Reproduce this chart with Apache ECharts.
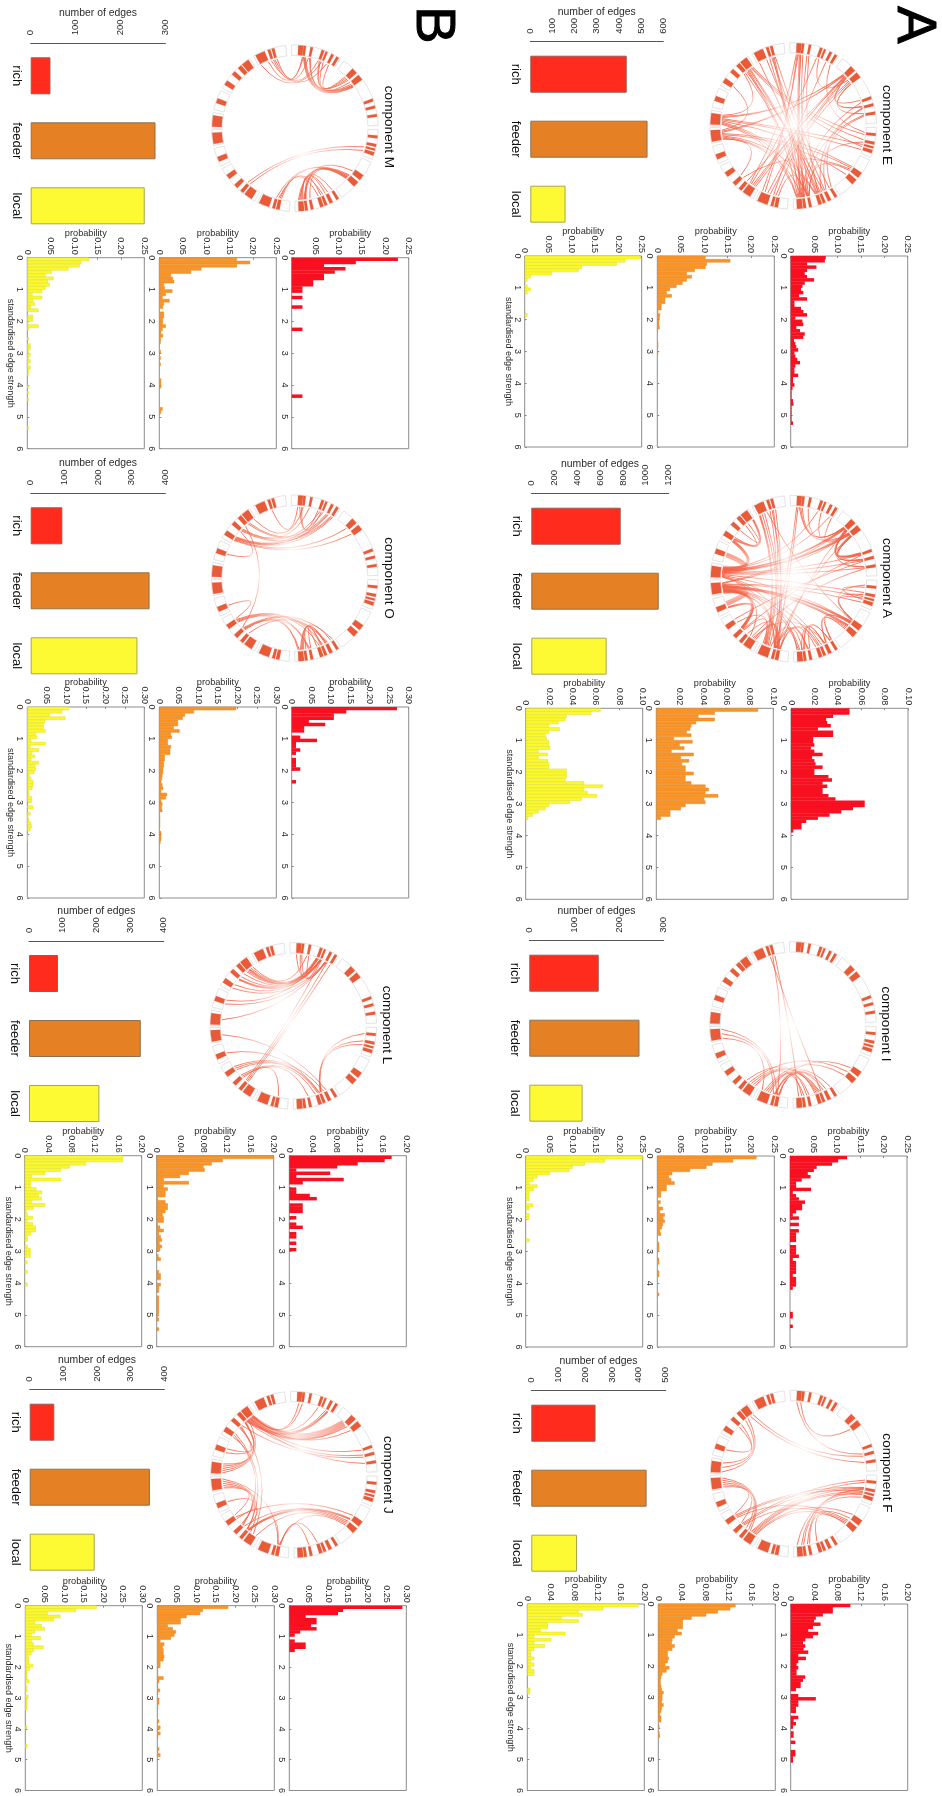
<!DOCTYPE html>
<html><head><meta charset="utf-8">
<style>html,body{margin:0;padding:0;background:#fff;overflow:hidden}#c{width:942px;height:1796px}</style>
<script src="https://cdn.jsdelivr.net/npm/echarts@6/dist/echarts.min.js"></script>
</head><body><div id="c"></div>
<script>
// ---------- histogram values: probability per 0.1-wide bin of standardised edge strength ----------
const E_rich=[.075,.073,.035,.055,.035,.03,.035,.05,.03,.025,.022,.027,.018,.035,.008,.008,.022,.027,.035,.01,.025,.027,.012,.02,.03,.027,.007,.01,.012,.016,.008,.01,.014,.02,.01,.008,.008,.016,.005,.005,.008,.004,.002,.002,.002,.005,.006,.002,.002,.002,.002,.002,.005];
const E_feeder=[.103,.156,.106,.103,.08,.063,.074,.063,.054,.041,.027,.02,.031,.017,.017,.009,.009,.002,.006,.005,.004,.004,.005,.001,0,0,0,.002,.002,0,.002];
const E_local=[.248,.215,.197,.122,.115,.058,.013,.006,0,.006,.013,.006,0,0,0,0,0,0,.006];
const A_rich=[.05,.05,.036,.03,.031,.034,.023,.036,.036,.019,.019,.02,.017,.02,.027,.018,.02,.021,.027,.02,.02,.032,.035,.027,.031,.027,.027,.032,.038,.063,.063,.053,.043,.033,.023,.013,.009,.009,.002];
const A_feeder=[.087,.05,.036,.05,.034,.03,.029,.026,.03,.015,.031,.02,.024,.013,.032,.021,.028,.022,.025,.025,.032,.025,.025,.03,.042,.045,.042,.053,.041,.042,.025,.021,.012,.012,.004];
const A_local=[.064,.056,.035,.034,.028,.02,.029,.02,.017,.018,.02,.02,.021,.011,.019,.011,.019,.02,.02,.035,.035,.035,.034,.05,.066,.05,.053,.061,.048,.038,.02,.017,.011,.006,.002];
const I_rich=[.122,.103,.09,.057,.051,.038,.044,.025,.013,.013,.045,.006,.013,.019,.032,.026,.026,.013,.006,.019,0,.019,0,.019,.013,.013,.013,0,.013,.013,.013,.019,.006,.013,.013,.013,.013,.006,.013,.013,.013,.006,0,0,0,0,0,0,0,.006,.006,0,0,.006];
const I_feeder=[.212,.162,.118,.105,.07,.032,.025,.03,.037,.02,.02,.008,.008,0,.007,.003,.012,.006,.016,.013,.016,.012,.01,.006,.008,0,0,.004,.004,.004,0,0,.004,.004,0,0,.004,.004,0,0,0,0,0,.004];
const I_local=[.25,.17,.127,.1,.093,.052,.025,.017,.008,.025,.017,.008,.008,.008,0,.016,.008,0,.008,.008,0,0,0,0,0,0,.008];
const F_rich=[.102,.072,.072,.055,.043,.04,.051,.038,.03,.047,.038,.025,.021,.025,.022,.03,.013,.026,.013,.01,.013,.01,.01,.025,.021,.017,.017,.009,0,.013,.043,.013,.013,.009,.009,0,.013,.005,.009,.004,0,.005,.005,0,.008,0,0,.008,.008,.004,.004];
const F_feeder=[.132,.123,.102,.082,.057,.042,.042,.042,.033,.04,.028,.024,.023,.028,.024,.016,.016,.018,.016,.012,.019,.014,.007,.005,.004,.004,.005,.006,.009,.007,.007,.006,.009,.006,.005,.003,.005,.005,0,.002,0,.002,.003];
const F_local=[.19,.13,.088,.095,.059,.088,.035,.035,.023,.065,.012,.041,.012,.03,.012,.006,.006,.012,.006,.012,.006,.012,.012,0,0,0,0,.005,.005];
const M_rich=[.227,.137,.069,.115,.092,.069,.069,.046,.046,.023,.023,0,.023,0,0,.023,0,0,0,0,0,0,.023,0,0,0,0,0,0,0,0,0,0,0,0,0,0,0,0,0,0,0,0,.023];
const M_feeder=[.166,.194,.166,.09,.068,.025,.029,.032,.01,.012,.028,.014,.007,.022,.01,.008,0,.01,.01,.008,.008,.014,.007,.004,.008,.003,.003,0,0,.003,0,.003,0,.003,0,0,0,0,.004,.004,.004,0,0,0,0,0,0,.007,.004];
const M_local=[.132,.115,.112,.088,.052,.039,.056,.044,.048,.039,.032,.011,.032,.012,.016,.008,.024,0,.012,.012,.002,.024,.003,0,0,.003,0,.007,.007,.003,.007,.003,.007,.002,.007,.003,.003,0,0,0,.003,0,.003,0,.003,0,0,0,0,0,0,0,0,.003];
const O_rich=[.27,.14,.108,.108,.044,.086,.032,.032,0,.022,.065,.011,.011,.022,.011,0,.011,.011,.011,.022,0,0,0,.011];
const O_feeder=[.197,.089,.066,.06,.048,.048,.037,.052,.03,.032,.022,.022,.03,.028,.028,.014,.014,.012,.012,.01,.01,.008,.007,.005,.008,.01,.005,.02,.017,.005,.008,.006,.008,0,.002,.002,.002,.002,0,.005,.005,.005,.003];
const O_local=[.107,.09,.057,.098,.046,.042,.042,.047,.022,.025,.01,.047,.008,.03,.012,.02,.01,.03,.02,.022,.018,.006,.01,.016,.015,.013,.004,.005,.012,.012,0,.015,0,.008,.002,.005,.009,.012,.008,0,.002,.002];
const L_rich=[.175,.163,.117,.082,.012,.07,.012,.093,.023,0,.012,.012,.035,.047,0,.023,.023,.023,0,.012,0,.012,.023,0,.012,.012,0,.012,0,.012];
const L_feeder=[.2,.113,.094,.08,.082,.055,.04,.012,.055,.012,.019,.015,.015,.002,.015,.019,.019,.015,.01,.012,.012,.002,.006,.012,.004,.007,.009,.005,.009,.006,0,.003,.007,0,0,0,.004,.007,.007,0,.007,.004,.004,0,.004,.004,.004,.004,.004,.004,.002,.004,0,0,.004];
const L_local=[.168,.168,.105,.077,.062,.035,.012,.062,.011,.011,.02,.03,.024,.029,.012,.035,.015,.003,.005,.014,.005,.014,.019,.019,.011,.005,.005,0,.005,.01,.01,.01,0,.005,0,0,.005,0,0,0,.005];
const J_rich=[.29,.138,.125,.042,.07,.07,.056,.07,.028,.014,0,.014,.042,.042,.014];
const J_feeder=[.182,.117,.11,.075,.06,.06,.027,.04,.048,.044,.035,.008,.018,.014,.016,.016,.018,.016,.008,.008,.002,.002,.002,.016,.005,.002,.002,.007,.002,0,.005,.005,.002,.002,0,0,0,.005,0,.008,.002,.008,.002,0,0,0,.005,.002,.008];
const J_local=[.183,.13,.058,.09,.073,.025,.042,.05,.025,.016,.04,.016,.022,.047,.022,.016,.008,.01,.01,.02,.012,.005,.005,.005,.01,.002,.005,.005,.002,.008,.005,.005,.005,.005,0,0,0,0,0,.005,0,0,0,0,0,.005];

// ---------- edge counts ----------
const edgeCategories=['rich','feeder','local'];
const E_counts=[435,529,159];
const A_counts=[781,1113,658];
const I_counts=[155,246,119];
const F_counts=[239,429,170];
const M_counts=[44,278,254];
const O_counts=[94,353,317];
const L_counts=[86,332,209];
const J_counts=[73,357,193];

// ---------- ring: node [centre angle, width] in degrees clockwise from top; outline boxes [start,end] ----------
const ringNodes=[[4,3.5],[6.8,1.8],[11.7,1.8],[19.8,2],[22.5,1.5],[27,2],[31,2],[46,4.2],[52,4.2],[70,2],[75,2],[81,2],[96,2],[102,2],[105,1.5],[108,2.5],[126.5,4.2],[132.5,4.2],[149,2],[154,2.5],[158,2],[161,2.5],[168,2],[172,2],[175.5,4],[192,2.5],[195,2],[202,7.5],[214.5,6],[220,2.5],[225.5,3],[234,3.6],[248,3.6],[263,8],[275,8],[289.5,3.6],[303.5,3.6],[312,3],[318,3],[323,5.5],[335,7],[341.6,2],[344.5,2]];
const ringBoxes=[[357.5,393],[36,88],[91,112],[114,146],[148,180],[184,207],[209,241],[243,256],[258,269],[270,281],[283,297],[299,327],[330,353.5]];

// ---------- chords: node index, node index, optional relative thickness ----------
const E_edges=[[7,33],[7,34],[7,33],[7,34],[7,28],[7,28],[8,28],[7,27],[7,26],[8,27],[7,29],[7,10],[7,9],[8,10],[8,11],[39,15],[39,13],[39,12],[39,20],[39,21],[39,24],[39,23],[38,22],[38,19],[42,24],[42,23],[41,22],[41,19],[40,21],[42,18],[40,20],[0,24],[0,23],[0,28],[0,27],[1,24],[1,22],[2,23],[2,21],[3,28],[3,8],[34,15],[34,14],[34,22],[34,21],[34,24],[34,16],[34,38],[33,16],[33,17],[33,21],[33,24],[33,23],[33,36],[33,30],[10,20],[10,18],[11,19],[11,23],[9,24],[12,6],[13,22],[16,22],[16,30],[25,22],[26,5],[27,0]];
const A_edges=[[35,34,5],[32,33,5],[34,8,2],[34,7,2],[34,9],[34,10],[34,8],[34,11],[34,7],[34,24],[34,26],[34,20],[34,13],[34,6],[34,3],[34,16],[34,36,3],[33,16,2],[33,17,2],[33,16],[33,17],[33,26],[33,25],[33,24],[33,22],[33,21],[33,14],[33,8],[33,7],[33,15],[33,30,3],[33,28],[41,27],[42,27],[42,26],[41,25],[40,27,2],[40,26],[40,25],[39,36,2],[38,36],[39,37],[0,7],[0,8],[1,7],[2,7],[4,8],[6,8],[7,9,2],[7,10],[8,9,2],[8,11],[7,11],[8,10],[8,9],[7,10],[12,15],[12,16],[13,16],[14,16],[16,19],[17,18],[28,26],[28,25],[29,25],[30,27],[31,27],[22,25],[21,26],[20,25],[23,26],[24,27],[19,24],[18,22],[18,23],[19,23],[18,16],[19,17],[0,26],[0,27],[7,25],[8,26],[40,16],[9,30],[10,31],[11,28],[28,19],[30,32,2]];
const I_edges=[[41,20],[42,25],[42,24],[33,26],[33,25],[33,27],[28,17],[16,26],[17,27],[28,21],[28,23],[29,20],[26,22],[25,19],[27,21],[27,18],[25,23],[25,21],[27,22],[26,19],[28,20]];
const F_edges=[[0,8],[0,10],[39,10],[39,11],[38,34],[39,34],[37,34],[37,35],[33,30],[33,31],[33,28],[33,29],[31,13],[31,14],[30,13],[30,12],[28,12],[28,13],[28,15],[28,17],[28,16],[30,17],[33,29],[23,13],[22,13],[22,16],[24,15],[21,17],[24,14],[31,17],[28,14]];
const M_edges=[[42,1],[41,5],[40,4],[42,3],[40,1],[41,2],[1,8,3],[2,7],[3,7],[3,8],[4,7],[5,7],[2,8],[29,15],[29,14],[26,17],[25,17],[24,17],[23,17,2],[22,17],[24,17],[23,16],[25,21],[25,20],[24,19],[23,19],[24,18],[24,20]];
const O_edges=[[36,7],[36,8],[36,6],[36,5],[36,4],[37,3],[37,2],[39,1],[0,3],[0,4],[35,37],[0,41],[38,30],[31,22],[31,21],[31,20],[30,18],[30,19],[30,22],[30,24],[31,24],[32,31],[29,19],[24,18],[23,19],[22,20],[24,20],[23,21],[24,19],[36,5],[37,6],[38,6],[39,5]];
const L_edges=[[39,3,2],[38,4],[37,4,2],[36,5],[36,4],[35,3],[35,5],[39,2],[39,4],[39,3],[38,3],[37,3],[0,5],[1,5],[2,4],[0,3],[34,5],[29,5],[29,6],[29,4],[33,19],[31,21],[31,20],[30,21],[30,22],[32,20],[31,19],[30,25],[13,20],[14,20],[12,20]];
const J_edges=[[39,7,7],[38,7],[39,8],[38,10],[37,10],[39,11],[39,9],[39,0],[39,1],[39,3],[38,5,2],[39,5],[34,38],[34,39],[34,37],[34,36],[34,38],[33,29],[33,30],[33,28],[33,31],[36,29],[37,28],[36,30],[35,37],[35,38],[31,16],[30,17],[29,16,2],[29,17],[28,17],[29,25],[25,17],[25,21],[25,22],[33,25],[30,32],[29,31]];

// ---------- layout (page pixels) ----------
const panelW=117, panelH=191, barGridH=195;
const letters=[{t:'A',x:913,y:25},{t:'B',x:432,y:25}];
const comps=[
 {n:'E',cx:793.3,cy:126,rx:790.7,ox:657.3,yx:524.7,top:256,bx:530.3,by:41.7,bw:133,max:.25,step:.05,cMax:600,cStep:100,tx:887,ty:125,r:E_rich,f:E_feeder,l:E_local,c:E_counts,e:E_edges},
 {n:'A',cx:793.7,cy:578.7,rx:791,ox:656.3,yx:525.7,top:708.3,bx:531.3,by:493.7,bw:137.4,max:.1,step:.02,cMax:1200,cStep:200,tx:887,ty:578,r:A_rich,f:A_feeder,l:A_local,c:A_counts,e:A_edges},
 {n:'I',cx:793,cy:1025,rx:790,ox:657.3,yx:525.7,top:1156,bx:529.3,by:940.7,bw:134.4,max:.25,step:.05,cMax:300,cStep:100,tx:886,ty:1024,r:I_rich,f:I_feeder,l:I_local,c:I_counts,e:I_edges},
 {n:'F',cx:793.7,cy:1473.7,rx:790.7,ox:658.3,yx:527.3,top:1604,bx:531.3,by:1390.7,bw:134.4,max:.2,step:.04,cMax:500,cStep:100,tx:887,ty:1473,r:F_rich,f:F_feeder,l:F_local,c:F_counts,e:F_edges},
 {n:'M',cx:295,cy:128.3,rx:291.7,ox:159.3,yx:27.3,top:257.7,bx:30.7,by:43.3,bw:134.7,max:.25,step:.05,cMax:300,cStep:100,tx:389,ty:127,r:M_rich,f:M_feeder,l:M_local,c:M_counts,e:M_edges},
 {n:'O',cx:294.8,cy:578.3,rx:291.7,ox:159.3,yx:27.3,top:707,bx:30.7,by:493.3,bw:134.7,max:.3,step:.05,cMax:400,cStep:100,tx:389,ty:578,r:O_rich,f:O_feeder,l:O_local,c:O_counts,e:O_edges},
 {n:'L',cx:293.3,cy:1026,rx:289.3,ox:156.7,yx:24.7,top:1155.7,bx:29,by:941,bw:134.7,max:.2,step:.04,cMax:400,cStep:100,tx:387,ty:1025,r:L_rich,f:L_feeder,l:L_local,c:L_counts,e:L_edges},
 {n:'J',cx:294,cy:1474.7,rx:289.3,ox:157.3,yx:25.3,top:1605.7,bx:29.7,by:1389.7,bw:134.7,max:.3,step:.05,cMax:400,cStep:100,tx:388,ty:1475,r:J_rich,f:J_feeder,l:J_local,c:J_counts,e:J_edges}
];

// ---------- styles ----------
const FONT='"Liberation Sans",Arial,sans-serif', TXT='#2a2a2a';
const histStyles={r:{color:'#f80f20',borderColor:'#f80f20',borderWidth:0},f:{color:'#fb9325',borderColor:'#e08c2e',borderWidth:.5},l:{color:'#fcf92b',borderColor:'#dfdc35',borderWidth:.5}};
const countColors=[{color:'#ff2b1c',borderColor:'#9a5a50'},{color:'#e68024',borderColor:'#8f7150'},{color:'#fdfa33',borderColor:'#a8a650'}];
const BIN_COUNT=60;
const binCats=Array.from({length:BIN_COUNT},(_,i)=>i);
const RING_IN=.875, RING_OUT=1, EDGE_R=.86;

function spreadEdges(edges){
  // place each chord end inside its node's width, ordered by the angle of the other end
  const ends={};
  edges.forEach((e,k)=>{[0,1].forEach(s=>{(ends[e[s]]=ends[e[s]]||[]).push({k,s,o:ringNodes[e[1-s]][0]});});});
  const out=edges.map(e=>[0,0,e[2]||1]);
  Object.keys(ends).forEach(nk=>{
    const nd=ringNodes[nk], list=ends[nk];
    const rel=o=>(o-nd[0]+360)%360;
    list.sort((a,b)=>rel(b.o)-rel(a.o));
    list.forEach((it,i)=>{
      const span=nd[1]*.9;
      out[it.k][it.s]=nd[0]+(list.length>1?(i/(list.length-1)-.5)*span:0);
    });
  });
  return out;
}

function ringSegRender(fill,stroke,lw,rIn,rOut){
  return function(params,api){
    const a=api.value(0),b=api.value(1),pts=[];
    const N=Math.max(2,Math.ceil((b-a)/2));
    for(let i=0;i<=N;i++)pts.push(api.coord([rOut,a+(b-a)*i/N]).slice(0,2));
    for(let i=N;i>=0;i--)pts.push(api.coord([rIn,a+(b-a)*i/N]).slice(0,2));
    return {type:'polygon',shape:{points:pts},style:{fill:fill,stroke:stroke,lineWidth:lw}};
  };
}
function edgeRender(params,api){
  const a=api.value(0),b=api.value(1),w=api.value(2);
  const p1=api.coord([EDGE_R,a]),p2=api.coord([EDGE_R,b]);
  const delta=((b-a+540)%360)-180;
  const sep=Math.abs(delta);
  const mid=a+delta/2;
  const k=.34*Math.cos(sep*Math.PI/360);
  const cp=api.coord([k,mid]);
  const fade=sep>110?.06:(sep>50?.16:.35);
  const endOp=w>4?.6:.9;
  const c=o=>'rgba(243,98,70,'+o+')';
  return {type:'bezierCurve',
    shape:{x1:p1[0],y1:p1[1],x2:p2[0],y2:p2[1],cpx1:cp[0],cpy1:cp[1]},
    style:{fill:null,lineWidth:w,
      stroke:new echarts.graphic.LinearGradient(p1[0],p1[1],p2[0],p2[1],
        [{offset:0,color:c(endOp)},{offset:.5,color:c(fade)},{offset:1,color:c(endOp)}],true)}};
}

const opt={animation:false,backgroundColor:'#fff',textStyle:{fontFamily:FONT},
  grid:[],xAxis:[],yAxis:[],polar:[],angleAxis:[],radiusAxis:[],series:[],graphic:[]};

function addHist(c,x,vals,st,showStrength){
  const g=opt.grid.length;
  opt.grid.push({left:x,top:c.top,width:panelW,height:panelH,show:true,borderColor:'#8d8d8d',borderWidth:1,backgroundColor:'#fff'});
  const xi=opt.xAxis.length;
  opt.xAxis.push({type:'value',gridIndex:g,position:'top',min:0,max:c.max,interval:c.step,
    name:'probability',nameLocation:'middle',nameGap:20,nameMoveOverlap:false,
    nameTextStyle:{fontSize:9.2,color:TXT,fontFamily:FONT},
    axisLine:{show:false},splitLine:{show:false},
    axisTick:{show:true,inside:true,length:2,lineStyle:{color:'#888'}},
    axisLabel:{rotate:-90,fontSize:9,color:TXT,margin:3,fontFamily:FONT,
      formatter:v=>v===0?'0':v.toFixed(2)}});
  const yi=opt.yAxis.length;
  opt.yAxis.push({type:'category',gridIndex:g,data:binCats,inverse:true,show:false});
  opt.yAxis.push({type:'value',gridIndex:g,position:'left',inverse:true,min:0,max:6,interval:1,
    name:showStrength?'standardised edge strength':'',nameLocation:'middle',nameGap:12,nameRotate:-90,nameMoveOverlap:false,
    nameTextStyle:{fontSize:9,color:TXT,fontFamily:FONT},
    axisLine:{show:false},splitLine:{show:false},
    axisTick:{show:true,inside:true,length:2,lineStyle:{color:'#888'}},
    axisLabel:{rotate:-90,fontSize:9,color:TXT,margin:3,fontFamily:FONT}});
  opt.series.push({type:'bar',xAxisIndex:xi,yAxisIndex:yi,barWidth:panelH/BIN_COUNT+.3,silent:true,
    data:binCats.map(i=>vals[i]?vals[i]:null),
    itemStyle:{color:st.color,borderColor:st.borderColor,borderWidth:st.borderWidth}});
}

function addCounts(c){
  const g=opt.grid.length;
  opt.grid.push({left:c.bx,top:c.by,width:c.bw,height:barGridH});
  const xi=opt.xAxis.length;
  opt.xAxis.push({type:'value',gridIndex:g,position:'top',min:0,max:c.cMax,interval:c.cStep,
    name:'number of edges',nameLocation:'middle',nameGap:25,nameMoveOverlap:false,
    nameTextStyle:{fontSize:10.4,color:TXT,fontFamily:FONT},
    axisLine:{show:true,onZero:false,lineStyle:{color:'#555',width:1}},axisTick:{show:false},splitLine:{show:false},
    axisLabel:{rotate:-90,fontSize:9.5,color:TXT,margin:8,fontFamily:FONT,formatter:v=>String(v)}});
  const yi=opt.yAxis.length;
  opt.yAxis.push({type:'category',gridIndex:g,data:edgeCategories,inverse:true,position:'left',
    axisLine:{show:false},axisTick:{show:false},
    axisLabel:{rotate:-90,fontSize:13,color:'#111',margin:8,fontFamily:FONT}});
  opt.series.push({type:'bar',xAxisIndex:xi,yAxisIndex:yi,barWidth:37,silent:true,
    data:c.c.map((v,i)=>({value:v,itemStyle:{color:countColors[i].color,borderColor:countColors[i].borderColor,borderWidth:1}}))});
}

function addRing(c){
  const p=opt.polar.length;
  opt.polar.push({center:[c.cx,c.cy],radius:83.3});
  opt.angleAxis.push({polarIndex:p,type:'value',min:0,max:360,startAngle:90,clockwise:true,show:false});
  opt.radiusAxis.push({polarIndex:p,type:'value',min:0,max:1,show:false});
  const ends=spreadEdges(c.e);
  opt.series.push({type:'custom',coordinateSystem:'polar',polarIndex:p,silent:true,z:3,
    renderItem:edgeRender,data:ends,encode:{angle:0,radius:-1}});
  opt.series.push({type:'custom',coordinateSystem:'polar',polarIndex:p,silent:true,z:4,
    renderItem:ringSegRender('#fff','#e4e4e4',1,RING_IN,RING_OUT),data:ringBoxes,encode:{angle:0,radius:-1}});
  opt.series.push({type:'custom',coordinateSystem:'polar',polarIndex:p,silent:true,z:5,
    renderItem:ringSegRender('#e95a38','#e95a38',.2,RING_IN+.005,RING_OUT-.005),
    data:ringNodes.map(n=>[n[0]-n[1]/2,n[0]+n[1]/2]),encode:{angle:0,radius:-1}});
}

comps.forEach(c=>{
  addRing(c);
  addCounts(c);
  addHist(c,c.rx,c.r,histStyles.r,false);
  addHist(c,c.ox,c.f,histStyles.f,false);
  addHist(c,c.yx,c.l,histStyles.l,true);
  opt.graphic.push({type:'text',x:c.tx,y:c.ty,rotation:-Math.PI/2,silent:true,
    style:{text:'component '+c.n,fontSize:13.6,fontFamily:FONT,fill:'#111',textAlign:'center',textVerticalAlign:'middle'}});
});
letters.forEach(l=>opt.graphic.push({type:'text',x:l.x,y:l.y,rotation:-Math.PI/2,silent:true,
  style:{text:l.t,fontSize:56,fontFamily:FONT,fill:'#000',stroke:'#000',lineWidth:1,textAlign:'center',textVerticalAlign:'middle'}}));

const chart=echarts.init(document.getElementById('c'),null,{renderer:'canvas',width:942,height:1796});
chart.setOption(opt);
</script></body></html>
